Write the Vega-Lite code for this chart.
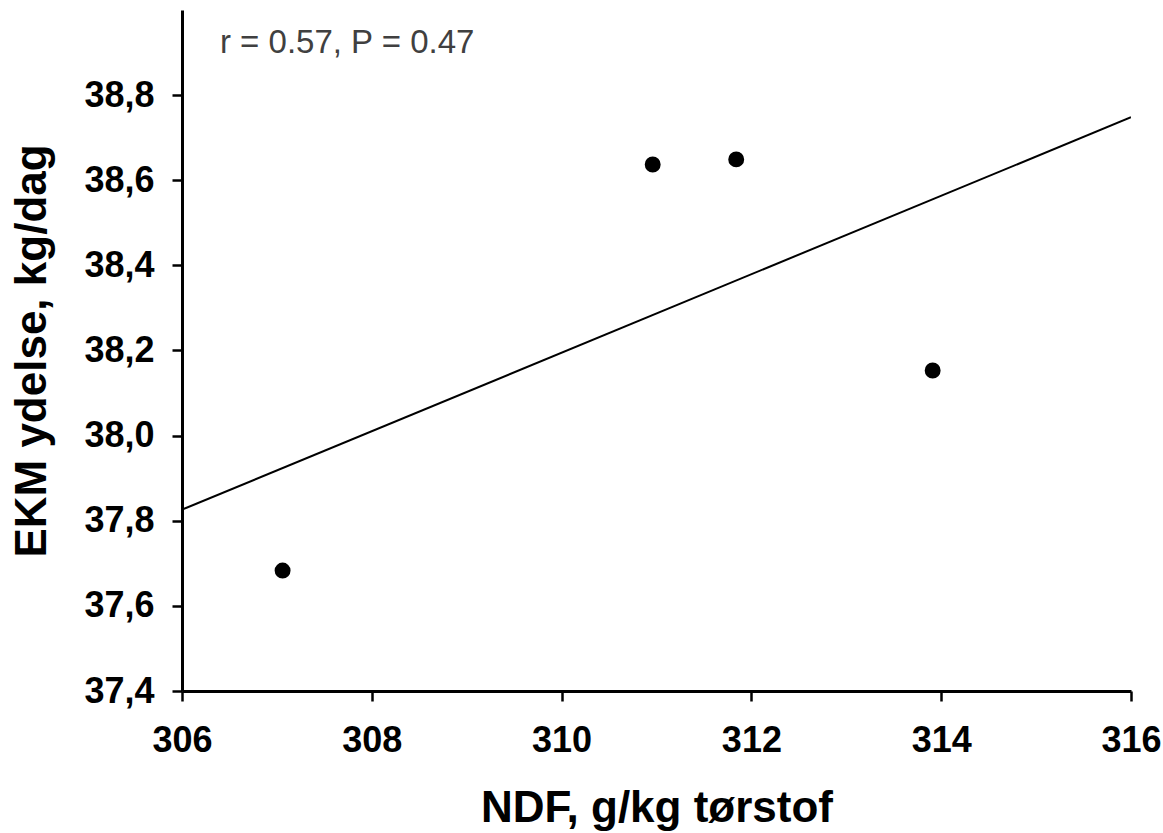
{
  "$schema": "https://vega.github.io/schema/vega-lite/v6.json",
  "width": 949,
  "height": 681,
  "autosize": {"type": "none"},
  "padding": {"left": 182, "top": 10, "right": 32, "bottom": 142},
  "background": "white",
  "config": {
    "view": {"stroke": null},
    "font": "Liberation Sans",
    "axis": {
      "grid": false,
      "domainColor": "black",
      "domainWidth": 3,
      "tickColor": "black",
      "tickWidth": 2.5,
      "tickSize": 10,
      "labelFont": "Liberation Sans",
      "labelFontWeight": "bold",
      "labelFontSize": 36,
      "labelColor": "black",
      "titleFont": "Liberation Sans",
      "titleFontWeight": "bold",
      "titleFontSize": 44,
      "titleColor": "black"
    }
  },
  "datasets": {
    "points": [
      {"ndf": 307.06, "ekm": 37.683},
      {"ndf": 310.96, "ekm": 38.637},
      {"ndf": 311.84, "ekm": 38.649},
      {"ndf": 313.91, "ekm": 38.153}
    ],
    "fit": [
      {"ndf": 306, "ekm": 37.826},
      {"ndf": 316, "ekm": 38.748}
    ],
    "note": [
      {"ndf": 306.4, "ekm": 38.9, "label": "r = 0.57, P = 0.47"}
    ]
  },
  "layer": [
    {
      "data": {"name": "fit"},
      "mark": {"type": "line", "color": "black", "strokeWidth": 2, "clip": true},
      "encoding": {
        "x": {
          "field": "ndf", "type": "quantitative",
          "scale": {"domain": [306, 316], "nice": false, "zero": false},
          "axis": {"values": [306, 308, 310, 312, 314, 316], "format": "d", "title": "NDF, g/kg tørstof", "labelPadding": 22, "titlePadding": 28, "labelFlush": false}
        },
        "y": {
          "field": "ekm", "type": "quantitative",
          "scale": {"domain": [37.4, 39.0], "nice": false, "zero": false},
          "axis": {"values": [37.4, 37.6, 37.8, 38.0, 38.2, 38.4, 38.6, 38.8], "labelExpr": "replace(format(datum.value, '.1f'), '.', ',')", "title": "EKM ydelse, kg/dag", "labelPadding": 18, "titlePadding": 29, "labelFlush": false}
        }
      }
    },
    {
      "data": {"name": "points"},
      "mark": {"type": "point", "filled": true, "color": "black", "opacity": 1, "size": 254, "shape": "circle"},
      "encoding": {
        "x": {"field": "ndf", "type": "quantitative"},
        "y": {"field": "ekm", "type": "quantitative"}
      }
    },
    {
      "data": {"name": "note"},
      "mark": {"type": "text", "align": "left", "baseline": "alphabetic", "font": "Liberation Sans", "fontSize": 33, "color": "#404040"},
      "encoding": {
        "x": {"field": "ndf", "type": "quantitative"},
        "y": {"field": "ekm", "type": "quantitative"},
        "text": {"field": "label"}
      }
    }
  ]
}
